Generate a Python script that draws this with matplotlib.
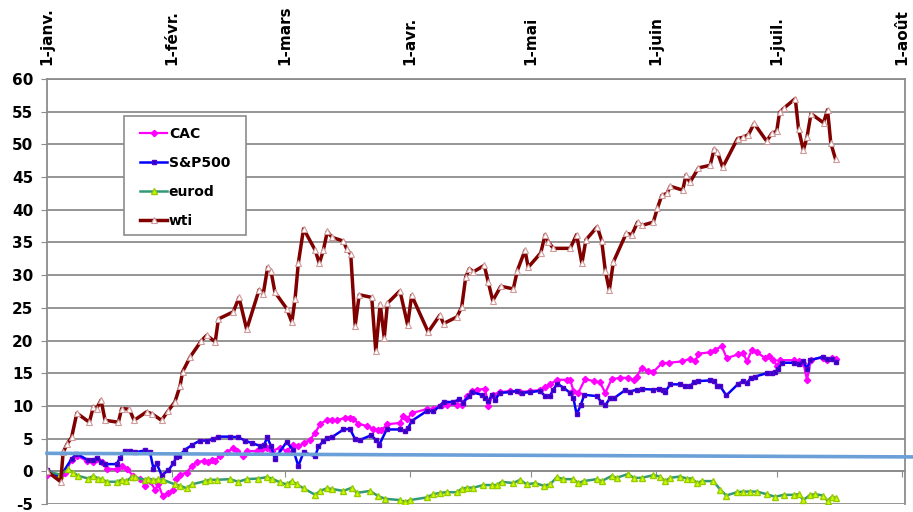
import matplotlib
matplotlib.use("Agg")
from matplotlib import pyplot as plt
from matplotlib.patches import Rectangle

plt.rcParams['font.family'] = ['DejaVu Sans']
plt.rcParams['font.weight'] = 'bold'
plt.rcParams['axes.unicode_minus'] = False

# x axis: days since 1 Jan
month_days = [0, 31, 59, 90, 120, 151, 181, 212]
month_labels = ['1-janv.', '1-févr.', '1-mars', '1-avr.', '1-mai', '1-juin', '1-juil.', '1-août']

wti_days = [0, 3.4, 4, 5, 6.1, 7.4, 10.5, 11.5, 12.3, 13.4, 14.4, 17.7, 18.5, 20.4, 21.6, 24.7, 26, 28.4,
	30.1, 31.7, 33, 33.6, 35.5, 38.3, 39.6, 41.7, 42.5, 46.2, 47.6, 49.5, 52.6, 53.6, 54.7, 55.5, 56.5,
	59.4, 60.7, 61.5, 62.3, 63.6, 66.5, 67.5, 68.5, 69.5, 70.6, 73.5, 74.3, 75.3, 76.4, 77.4, 80.5, 81.5,
	82.6, 83.6, 84.4, 87.5, 89.4, 90.4, 94.5, 97.4, 98.3, 101.6, 102.8, 103.8, 104.7, 105.7, 108.4, 109.4,
	110.5, 112.5, 115.6, 116.6, 118.5, 119.3, 122.4, 123.5, 124.3, 125.5, 129.7, 131.3, 132.6, 133.6,
	136.4, 137.5, 138.4, 139.4, 140.4, 143.6, 145.0, 146.4, 147.4, 150.3, 151.3, 152.4, 153.7, 154.5,
	157.6, 158.4, 159.4, 161.5, 164.4, 165.4, 166.2, 167.5, 171.2, 172.6, 173.9, 175.3, 178.4, 179.7,
	180.9, 181.6, 182.6, 185.5, 186.3, 187.5, 188.4, 189.4, 192.5, 193.5, 194.3, 195.5]
wti_vals = [0.0, -1.6, 2.9, 4.2, 5.2, 8.9, 7.5, 9.9, 9.6, 10.9, 7.8, 7.5, 9.6, 9.5, 7.8, 9.1, 8.8, 7.8,
	9.3, 10.6, 13.1, 15.2, 17.5, 20.0, 20.8, 19.8, 23.3, 24.4, 26.6, 21.7, 27.8, 27.1, 31.2, 30.7, 27.4,
	24.9, 22.8, 26.4, 31.8, 37.1, 33.8, 31.8, 33.8, 36.7, 35.8, 35.2, 34.0, 33.2, 22.3, 27.0, 26.6, 18.4,
	25.6, 20.4, 25.7, 27.6, 22.4, 26.9, 21.3, 23.9, 22.6, 23.6, 25.1, 29.7, 31.0, 30.5, 31.5, 28.9,
	26.1, 28.3, 27.9, 30.7, 33.8, 31.2, 33.4, 36.2, 35.1, 34.1, 34.1, 36.2, 31.8, 35.4,
	37.4, 35.3, 30.7, 27.7, 32.0, 36.4, 36.2, 38.1, 37.6, 38.1, 40.2, 42.2, 42.5, 43.6,
	43.0, 45.3, 44.2, 46.4, 46.8, 49.3, 48.8, 46.5, 50.9, 51.1, 51.5, 53.2, 50.5, 51.7,
	52.0, 54.9, 55.5, 57.0, 52.4, 49.1, 51.1, 54.7, 53.3, 55.3, 50.2, 47.7]

sp_days = [0, 3.2, 6.1, 7.3, 10.2, 11.5, 12.4, 13.5, 14.4, 17.3, 18.1, 19.3, 20.6, 21.8, 24.3, 25.5,
	26.4, 27.2, 28.4, 30.1, 31.3, 32.1, 32.8, 34.2, 35.9, 37.9, 39.6, 41.2, 42.5, 45.4, 47.4, 49.1, 50.8,
	52.8, 53.8, 54.6, 55.5, 56.5, 59.4, 61.1, 62.3, 63.6, 66.5, 67.3, 68.5, 69.4, 70.6, 73.5, 75.1, 76.4,
	77.6, 80.3, 81.6, 82.4, 84.2, 87.5, 88.8, 89.6, 90.4, 94.1, 95.8, 97.4, 98.3, 100.7, 102.2, 103.2,
	104.5, 105.3, 107.8, 108.6, 109.4, 110.3, 111.1, 112.2, 114.8, 116.5, 117.7, 119.8, 122.2, 123.5,
	124.7, 125.5, 126.5, 128.0, 129.7, 130.5, 131.3, 132.3, 133.2, 136.3, 137.4, 138.4, 139.6, 140.6,
	143.3, 144.6, 146.2, 147.4, 150.3, 151.6, 152.8, 153.2, 154.5, 156.9, 158.2, 159.4, 160.3, 161.5,
	164.4, 165.4, 166.1, 166.9, 168.4, 171.4, 172.6, 173.5, 174.5, 175.6, 178.4, 179.7, 180.5, 181.3,
	182.2, 185.2, 186.3, 187.5, 188.4, 189.2, 192.3, 193.3, 194.6, 195.6]
sp_vals = [0.2, -0.9, 1.9, 2.7, 1.7, 1.7, 2.1, 1.4, 1.1, 1.1, 2.1, 3.1, 3.1, 2.9, 3.2, 3.0,
	0.4, 1.2, -0.6, 0.15, 1.2, 2.2, 2.4, 3.3, 4.0, 4.7, 4.7, 4.9, 5.3, 5.3, 5.2, 4.7, 4.3,
	3.9, 4.0, 5.2, 3.9, 1.9, 4.5, 3.2, 0.8, 2.9, 2.3, 3.8, 4.6, 5.1, 5.2, 6.4, 6.5, 4.9,
	4.8, 5.5, 4.8, 4.1, 6.4, 6.4, 6.2, 6.7, 7.7, 9.2, 9.2, 10.0, 10.6, 10.6, 11.0, 10.5,
	11.5, 12.1, 11.7, 11.2, 10.7, 11.7, 10.9, 12.0, 12.1, 12.3, 12.0, 12.1, 12.3, 11.5,
	11.5, 12.5, 13.4, 12.8, 12.0, 11.2, 8.7, 10.1, 11.7, 11.5, 10.6, 10.1, 11.2, 11.2,
	12.4, 12.2, 12.5, 12.6, 12.5, 12.6, 12.4, 12.1, 13.3, 13.3, 13.1, 13.0, 13.6, 13.8,
	13.9, 13.8, 13.1, 13.0, 11.6, 13.4, 13.8, 13.5, 14.3, 14.5, 15.0, 15.0, 15.2, 15.7,
	16.6, 16.6, 16.4, 16.8, 15.7, 17.0, 17.5, 17.2, 17.2, 16.7]

cac_days = [0, 3.4, 4.5, 6.1, 7.4, 9.8, 11.3, 12.5, 13.6, 14.8, 17.3, 18.5, 19.8, 21.4, 23.1, 24.3, 25.5,
	26.8, 27.6, 28.7, 30.1, 31.3, 32.1, 33.0, 34.6, 35.9, 37.1, 38.8, 40.0, 40.8, 41.7, 42.9, 44.6, 46.2,
	47.0, 48.5, 49.5, 52.0, 53.2, 54.5, 55.7, 57.8, 59.4, 61.1, 62.3, 63.6, 65.2, 66.5, 67.7, 69.4, 70.6,
	71.8, 73.9, 75.1, 75.9, 77.2, 79.3, 80.9, 82.1, 82.9, 84.4, 87.5, 88.3, 89.3, 90.4, 94.1, 95.8, 97.8,
	99.1, 101.6, 102.8, 104.1, 105.3, 106.5, 108.6, 109.4, 110.5, 112.2, 114.8, 117.3, 119.8, 122.2,
	123.5, 124.7, 126.4, 128.9, 129.7, 130.5, 131.7, 133.4, 135.5, 137.1, 138.4, 140.0, 142.1, 144.1,
	145.4, 146.2, 147.4, 149.1, 150.3, 152.4, 154.1, 157.4, 159.4, 160.7, 161.5, 164.4, 165.6, 167.3,
	168.5, 171.4, 172.6, 173.5, 174.7, 176.0, 178.1, 178.9, 180.1, 180.9, 181.7, 185.1, 186.3, 187.5,
	188.4, 189.4, 192.3, 193.3, 194.6, 195.6]
cac_vals = [-0.5, -0.6, -0.3, 1.8, 2.4, 1.6, 1.4, 1.9, 1.4, 0.4, 0.3, 0.8, 0.3, -0.7, -1.2, -2.2, -1.5,
	-2.8, -2.0, -3.8, -3.3, -2.8, -1.2, -0.5, -0.2, 0.8, 1.4, 1.6, 1.4, 1.8, 1.6, 2.4, 3.0, 3.5,
	3.1, 2.4, 3.1, 3.1, 3.4, 3.6, 3.1, 3.6, 3.1, 4.1, 3.8, 4.3, 4.8, 5.9, 7.2, 7.9, 7.9,
	7.8, 8.2, 8.2, 8.0, 7.3, 6.9, 6.5, 6.3, 6.3, 7.2, 7.4, 8.5, 8.0, 8.9, 9.5, 9.6, 10.2,
	10.2, 10.2, 10.2, 11.5, 12.3, 12.5, 12.6, 10.0, 11.7, 12.1, 12.3, 12.1, 12.3, 12.4,
	12.9, 13.3, 14.0, 14.0, 14.0, 12.3, 12.0, 14.1, 13.8, 13.6, 12.0, 14.1, 14.3, 14.3,
	14.0, 14.5, 15.8, 15.3, 15.2, 16.5, 16.6, 16.8, 17.2, 16.8, 18.0, 18.2, 18.6, 19.1,
	17.3, 17.9, 18.1, 16.8, 18.5, 18.2, 17.3, 17.7, 17.1, 16.1, 17.0, 17.0, 16.8, 16.6,
	14.0, 17.1, 17.4, 17.1, 17.4, 17.2]

eurod_days = [0, 3.2, 5.3, 6.5, 7.8, 10.2, 11.5, 12.7, 13.6, 14.8, 17.3, 18.5, 19.6, 21.0, 21.8, 24.3,
	25.1, 26.4, 27.6, 28.8, 31.7, 33.0, 34.6, 35.9, 39.2, 40.4, 42.1, 45.4, 47.4, 49.5, 52.4, 54.5, 55.7,
	57.8, 59.4, 60.7, 61.9, 63.6, 66.5, 67.7, 69.4, 70.6, 73.5, 75.6, 76.8, 80.1, 82.1, 83.8, 87.5, 88.8,
	90.0, 94.1, 95.8, 97.4, 99.1, 101.6, 102.8, 104.1, 105.7, 108.2, 110.3, 111.5, 112.7, 115.6, 117.3,
	118.9, 121.0, 123.1, 124.7, 126.4, 128.0, 130.5, 131.7, 133.0, 136.3, 137.5, 140.0, 141.2, 144.1,
	145.4, 147.4, 150.3, 152.0, 153.2, 154.5, 156.9, 158.6, 159.8, 161.2, 162.3, 165.2, 166.9, 168.4,
	171.0, 172.6, 174.3, 176.0, 178.4, 180.5, 182.6, 185.1, 186.3, 187.5, 189.2, 190.5, 192.3, 193.5,
	194.6, 195.6]
eurod_vals = [0.0, -0.5, 0.3, -0.2, -0.7, -1.1, -0.7, -1.1, -1.2, -1.6, -1.6, -1.3, -1.5, -0.9, -0.9, -1.3,
	-1.1, -1.4, -1.2, -1.3, -2.0, -2.2, -2.6, -2.0, -1.5, -1.3, -1.3, -1.2, -1.6, -1.2, -1.1, -0.9, -1.1,
	-1.7, -2.0, -1.5, -2.0, -2.6, -3.6, -3.0, -2.6, -2.7, -3.0, -2.5, -3.3, -3.0, -3.8, -4.2, -4.4, -4.7,
	-4.4, -4.0, -3.5, -3.3, -3.2, -3.2, -2.7, -2.5, -2.5, -2.1, -2.1, -2.1, -1.6, -1.8, -1.3,
	-2.0, -1.8, -2.2, -2.0, -0.9, -1.2, -1.2, -1.8, -1.5, -1.2, -1.5, -0.7, -1.0, -0.4,
	-1.0, -1.0, -0.6, -0.8, -1.5, -1.0, -0.8, -1.1, -1.1, -1.8, -1.5, -1.5, -2.8, -3.7,
	-3.2, -3.1, -3.1, -3.1, -3.5, -3.9, -3.6, -3.6, -3.5, -4.4, -3.6, -3.5, -3.7, -4.5,
	-3.9, -4.1]

# hand-drawn straight line across the chart
ref_days = [0, 215]
ref_vals = [2.75, 2.2]

grid_col = '#8c8c8c'

fig = plt.figure(figsize=(9.13, 5.12), dpi=100)
ax = fig.add_axes([47/913, 8/512, 858/913, 425/512])

ax.plot(cac_days, cac_vals, color='#FF00FF', lw=1.6, marker='D', ms=3.2,
	mfc='#FF00FF', mec='#FF00FF', label='CAC', zorder=3)
ax.plot(sp_days, sp_vals, color='#0000FF', lw=1.8, marker='s', ms=3.2,
	mfc='#2200CC', mec='#5500CC', label='S&P500', zorder=3)
ax.plot(eurod_days, eurod_vals, color='#339977', lw=1.8, marker='^', ms=3.8,
	mfc='#CCFF00', mec='#99CC00', label='eurod', zorder=3)
ax.plot(wti_days, wti_vals, color='#800000', lw=2.5, marker='^', ms=5,
	mfc='white', mec='#D09A9A', mew=0.8, label='wti', zorder=3)

ax.plot(ref_days, ref_vals, color='#6A9FD8', lw=2.6, clip_on=False, zorder=4)

ax.set_xlim(0, 212.7)
ax.set_ylim(-5, 60)
ax.set_yticks(range(-5, 61, 5))
ax.set_xticks(month_days)
ax.set_xticklabels(month_labels)
ax.yaxis.grid(True, color=grid_col, lw=1.3)
ax.set_axisbelow(True)

for s in ax.spines.values():
	s.set_color(grid_col)
	s.set_linewidth(1.3)
ax.spines['bottom'].set_position(('data', 0))

ax.tick_params(axis='x', bottom=True, top=False, labelbottom=False, labeltop=True,
	labelrotation=90, direction='out', length=4, color=grid_col, labelsize=11, pad=6)
ax.tick_params(axis='y', direction='out', length=4, color=grid_col, labelsize=11, pad=6)
for t in ax.xaxis.get_major_ticks():
	t.label2.set_fontweight('bold')
for lab in ax.get_yticklabels():
	lab.set_fontweight('bold')

# legend box
ax.add_patch(Rectangle((0.0897, 0.633), 0.142, 0.28, transform=ax.transAxes,
	facecolor='white', edgecolor=grid_col, lw=1.2, zorder=5))
leg = ax.legend(loc='upper left', bbox_to_anchor=(0.108, 0.888), frameon=False,
	prop={'weight': 'bold', 'size': 10}, handlelength=2.0, handletextpad=0.1,
	labelspacing=1.08, borderpad=0, borderaxespad=0)
leg.set_zorder(6)

plt.savefig('out.png', dpi=100)
